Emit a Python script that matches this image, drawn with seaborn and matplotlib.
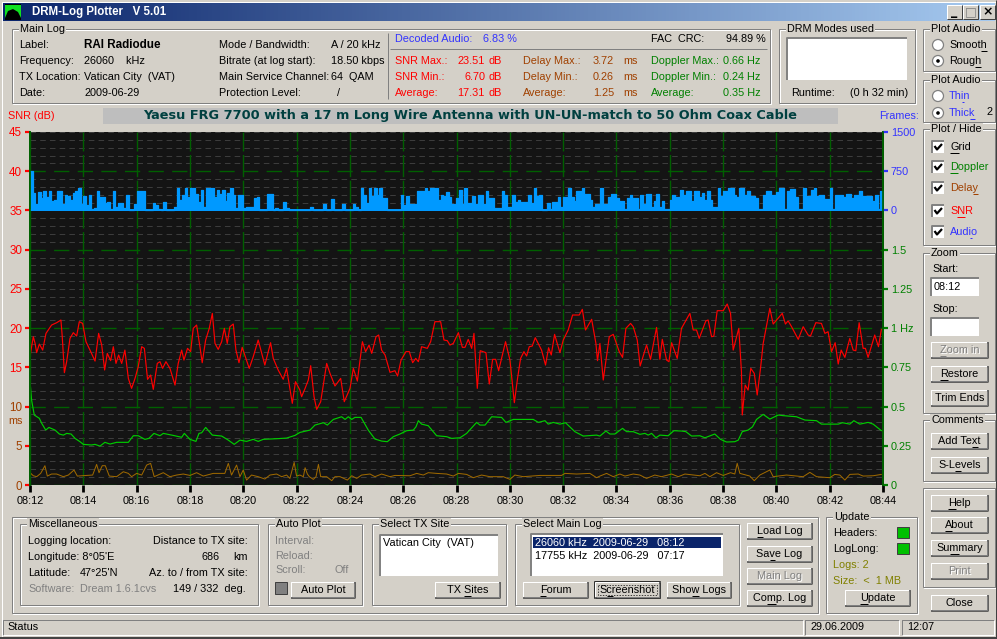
import numpy as np
import pandas as pd
import seaborn as sns
import matplotlib
matplotlib.use('Agg')
import matplotlib.pyplot as plt
from matplotlib.colors import LinearSegmentedColormap
from matplotlib.patches import Rectangle, Circle, Polygon

# Data (minutes since 08:12)
snr_time = [0, .06, .125, .19, .25, .35, .475, .6, .81, 1.0, 1.16, 1.21, 1.29, 1.375, 1.5, 1.625, 1.75, 1.85, 1.975, 2.1,
            2.25, 2.44, 2.575, 2.69, 2.8, 2.9, 3.025, 3.125, 3.225, 3.325, 3.44, 3.56, 3.69, 3.81, 3.94, 4.06, 4.19, 4.29,
            4.41, 4.525, 4.625, 4.775, 4.875, 4.975, 5.1, 5.25, 5.44, 5.56, 5.69, 5.775, 5.91, 6.025, 6.125, 6.25, 6.375,
            6.46, 6.59, 6.725, 6.84, 6.94, 7.06, 7.19, 7.29, 7.4, 7.5, 7.625, 7.725, 7.84, 7.96, 8.1, 8.225, 8.375, 8.56,
            8.81, 9.025, 9.125, 9.31, 9.5, 9.625, 9.84, 9.96, 10.125,
            10.19, 10.32, 10.44, 10.53, 10.655, 10.755, 10.905, 11.13, 11.255, 11.44, 11.655, 11.79, 12.005, 12.13, 12.28,
            12.47, 12.59, 12.72, 12.82, 12.98, 13.08, 13.19, 13.32, 13.505, 13.69, 13.79, 13.92, 14.105, 14.23, 14.355,
            14.47, 14.57, 14.69, 14.905, 15.03, 15.19, 15.405, 15.53, 15.655, 15.755, 15.88, 16.07, 16.22, 16.32, 16.44,
            16.57, 16.655, 16.78, 16.89, 17.105, 17.23, 17.355, 17.47, 17.58, 17.84, 18.005, 18.17, 18.29, 18.405, 18.53,
            18.63, 18.73, 18.84, 18.955, 19.19, 19.34, 19.455, 19.555, 19.68, 19.88, 20.005, 20.19, 20.355, 20.605, 20.72,
            20.84, 21.07, 21.23, 21.29, 21.38,
            21.505, 21.73, 21.88, 22.105, 22.23, 22.355, 22.53, 22.63, 22.78, 22.89, 23.13, 23.28, 23.505, 23.63, 23.72,
            23.88, 23.97, 24.07, 24.28, 24.44, 24.755, 24.88, 25.005, 25.105, 25.355, 25.44, 25.57, 25.655, 25.78, 26.005,
            26.155, 26.28, 26.38, 26.59, 26.69, 26.72, 26.83, 26.94, 27.04, 27.17, 27.28, 27.405, 27.505, 27.755, 27.88,
            28.22, 28.34, 28.44, 28.57, 28.82, 29.005, 29.19, 29.28, 29.48, 29.69, 29.82, 29.94, 30.07, 30.205, 30.32,
            30.43, 30.57, 30.755, 30.88, 30.98, 31.105, 31.255, 31.34, 31.44, 31.69, 31.83, 31.94]
snr_db = [16.36, 17.63, 18.9, 18.05, 16.87, 17.97, 17.2, 19.33, 20.39, 20.69, 21.03, 18.9, 14.32, 15.72, 18.69, 19.42, 18.99,
          20.82, 20.6, 18.27, 17.2, 15.8, 19.33, 17.84, 14.66, 16.78, 15.85, 17.63, 15.5, 16.57, 15.5, 17.2, 13.59, 12.32,
          13.59, 15.08, 17.63, 17.42, 13.47, 14.02, 12.19, 15.5, 15.72, 14.87, 15.72, 14.87, 12.74, 15.5, 17.2, 15.93, 17.42,
          17.0, 19.97, 20.39, 17.63, 15.59, 18.48, 19.97, 21.88, 18.05, 17.29, 18.27, 19.97, 18.05, 20.18, 20.52, 17.2, 15.59,
          17.55, 16.14, 14.87, 16.36, 18.48, 15.29, 18.14, 16.14, 14.66, 13.47, 14.87, 10.41, 13.17, 12.1,
          11.26, 12.32, 13.38, 15.21, 11.26, 9.64, 10.62, 15.5, 14.23, 12.62, 13.59, 10.62, 12.32, 14.87, 13.25, 18.27, 17.0,
          17.84, 16.78, 18.9, 19.12, 17.2, 16.57, 14.36, 14.57, 13.89, 15.93, 17.0, 17.0, 15.59, 16.14, 15.72, 17.63, 17.42,
          18.27, 20.82, 20.82, 18.48, 18.4, 17.84, 18.05, 19.42, 17.55, 17.55, 18.57, 17.42, 19.33, 12.32, 17.12, 16.87, 12.87,
          16.02, 16.02, 14.57, 18.27, 15.93, 10.49, 13.59, 16.14, 17.0, 16.44, 17.63, 17.71, 18.78, 17.2, 15.29, 17.5, 16.57,
          19.2, 16.87, 18.48, 19.76, 21.67, 21.67, 22.39, 19.76, 21.12, 18.05, 15.85, 18.05,
          13.38, 18.9, 19.2, 17.0, 16.27, 19.97, 20.6, 20.18, 18.48, 15.17, 17.84, 16.02, 20.09, 16.02, 18.57, 15.93, 15.72,
          18.14, 16.14, 19.97, 21.88, 19.76, 19.76, 18.69, 20.93, 21.03, 18.9, 18.99, 22.22, 22.22, 23.07, 21.88, 17.2, 19.97,
          14.44, 8.92, 12.74, 12.1, 14.87, 14.23, 11.47, 14.87, 18.05, 22.52, 20.52, 21.88, 20.52, 20.93, 20.18, 18.57, 20.18,
          19.12, 18.99, 20.69, 20.6, 19.33, 19.54, 17.0, 18.14, 15.42, 17.2, 16.27, 18.69, 17.2, 17.12, 20.69, 17.42, 17.42,
          16.27, 19.12, 17.63, 19.84]

doppler_time = [0, .06, .16, .35, .44, .59, .71, .94, 1.1, 1.25, 1.375, 1.54, 1.69, 1.875, 2.0, 2.31, 2.44, 2.625, 2.81, 3.0,
                3.25, 3.69, 3.875, 4.06, 4.31, 4.46, 4.65, 4.875, 5.0, 5.375, 5.69, 5.79, 6.0, 6.225, 6.34, 6.44, 6.59, 6.84,
                7.19, 7.44, 7.66, 7.875, 8.125, 8.375, 8.56, 8.75, 9.25, 9.625, 9.94, 10.125,
                10.505, 10.69, 11.005, 11.155, 11.38, 11.69, 11.82, 11.94, 12.07, 12.19, 12.42, 12.69, 12.94, 13.19, 13.405,
                13.63, 13.88, 14.13, 14.38, 14.48, 14.57, 14.69, 14.94, 15.255, 15.63, 15.82, 16.13, 16.38, 16.755, 16.88,
                17.07, 17.32, 17.69, 17.855, 18.13, 18.88, 19.07, 19.32, 19.44, 19.63, 19.88, 20.09, 20.44, 20.755, 21.255,
                21.38, 21.605, 21.755, 21.94, 22.23, 22.38, 22.63, 22.88, 23.07, 23.19, 23.32, 23.48, 23.63, 23.94, 24.155,
                24.44, 24.605, 24.82, 25.13, 25.32, 25.69, 25.905, 26.13, 26.44, 26.57, 26.72, 26.94, 27.105, 27.255, 27.505,
                27.755, 28.07, 28.255, 28.755, 29.07, 29.505, 29.69, 30.32, 30.48, 30.755, 30.905, 31.13, 31.44, 31.63, 31.94]
doppler_hz = [.658, .541, .446, .425, .393, .35, .367, .35, .325, .318, .329, .325, .297, .276, .259, .255, .259, .248, .272,
              .261, .272, .272, .314, .314, .291, .297, .329, .314, .329, .316, .304, .329, .291, .278, .329, .333, .367, .318,
              .312, .286, .259, .286, .278, .291, .278, .291, .295, .299, .316, .335,
              .35, .382, .397, .382, .418, .435, .418, .435, .418, .431, .431, .35, .293, .28, .276, .308, .325, .346, .35,
              .371, .41, .388, .378, .314, .308, .297, .301, .329, .399, .382, .382, .435, .431, .399, .418, .418, .399, .41,
              .388, .399, .388, .397, .34, .312, .318,
              .312, .344, .325, .325, .361, .34, .34, .323, .329, .318, .329, .301, .318, .314, .346, .344, .34, .312, .314,
              .301, .325, .291, .274, .276, .286, .34, .35, .371, .418, .45, .42, .446, .442, .435, .414, .41, .388, .388,
              .397, .388, .41, .388, .399, .388, .346]

delay_time = [0, .125, .25, .4, .56, .65, .81, 1.0, 1.25, 1.44, 1.65, 1.775, 2.35, 2.5, 2.59, 2.71, 2.825, 2.975, 3.25, 3.5,
              3.69, 3.81, 4.0, 4.19, 4.375, 4.525, 4.66, 5.0, 5.25, 5.5, 5.75, 6.0, 6.25, 6.5, 6.875, 7.31, 7.44, 7.56, 7.75,
              7.875, 8.0, 8.125, 8.31, 8.56, 8.81, 9.0, 9.25, 9.44, 9.625, 9.75, 9.91, 10.0, 10.125,
              10.255, 10.32, 10.405, 10.48, 10.63, 10.73, 10.82, 10.905, 11.13, 11.32, 11.44, 11.63, 11.905, 12.07, 12.255,
              12.44, 12.755, 12.94, 13.19, 13.505, 13.69, 14.255, 14.505, 14.755, 14.94, 15.255, 15.63, 15.88, 16.07, 16.38,
              16.63, 16.94, 17.255, 17.505, 17.755, 18.005, 18.19, 18.505, 19.13, 19.94, 20.07, 20.505, 21.005, 21.255, 21.38,
              21.63, 21.88, 22.13, 22.32, 22.63, 22.88, 23.13, 23.44, 23.69, 24.07, 24.32, 24.57, 25.13, 25.32, 25.505, 25.755,
              26.005, 26.28, 26.44, 26.53, 26.63, 27.005, 27.17, 27.38, 27.755, 27.88, 28.38, 29.005, 29.255, 29.505, 30.005,
              30.19, 30.38, 30.57, 30.755, 31.07, 31.255, 31.63, 31.94]
delay_ms = [1.57, 1.18, 1.06, 1.48, 2.46, 1.14, 1.4, 1.4, 1.06, 1.27, 1.91, 1.14, 1.27, 2.63, 1.57, 2.46, 2.46, 1.14, 1.06, 1.69,
            1.48, 1.06, 1.48, 1.27, 2.54, 2.76, 1.06, 1.57, 1.06, 1.27, 1.4, 1.22, 1.57, 1.14, 1.48, 1.48, 2.76, 1.27, 2.54, 1.06,
            1.91, .63, 1.27, 1.06, .76, 1.27, 1.4, 1.06, 1.27, .84, 2.88, 1.14, 1.27,
            1.06, 2.2, 1.4, 1.06, .72, 1.06, 2.63, 1.06, 1.06, .55, 1.06, 1.06, .63, 1.18, .84, 1.27, 1.4, 1.06, 1.4, 1.06, 1.22,
            1.18, 1.48, 1.27, 1.57, 1.48, 1.4, 1.14, 1.48, 1.35, .93, 1.27, 1.06, 1.06, 1.06, .72, 1.27, 1.06, 1.22, 1.22, 1.48,
            1.4, 1.48, .93, 1.14,
            1.48, 1.06, 1.4, 1.14, 1.4, 1.27, .84, 1.27, 1.06, 1.4, 1.06, 1.4, 1.18, 1.48, 1.06, 1.57, 1.22, 1.57, 1.4, 2.76, 1.48,
            1.14, .55, 1.27, 1.91, 1.06, 1.27, 1.06, 1.61, 1.06, .93, 1.35, 1.27, .63, 1.35, 1.4, 1.14, 1.18, 1.35]

audio_frames = [750, 330, 130, 360, 230, 370, 260, 370, 180, 200, 370, 370, 130, 300, 270, 200, 330, 380, 430, 120, 270, 100,
                300, 30, 40, 370, 260, 250, 140, 160, 30, 370, 70, 150, 140, 40, 300, 10, 10, 130, 380, 380, 380, 5, 5, 5, 150,
                100, 20, 10, 170, 5, 5, 10, 60, 430, 200, 300, 420, 250, 430, 430, 310, 170, 400, 60, 430, 430, 430, 250, 400,
                310, 400, 180, 340, 420, 300, 50, 300, 300, 40, 60, 60, 70, 230, 250, 10, 5, 10, 310, 310, 10, 40, 10, 15, 170,
                40, 10, 5, 5, 5, 5,
                5, 5, 5, 60, 5, 5, 5, 5, 130, 5, 5, 210, 5, 5, 5, 130, 5, 5, 5, 130, 60, 10, 430, 300, 150, 430, 280, 430, 300,
                430, 240, 240, 5, 5, 5, 5, 5, 300, 100, 280, 130, 130, 130, 380, 380, 380, 430, 380, 430, 430, 430, 200, 300,
                280, 360, 250, 130, 130, 230, 400, 130, 430, 150, 150, 280, 130, 300, 300, 120, 370, 240, 240, 50, 50, 50, 370,
                300, 60, 60, 300, 170, 200, 170, 170, 170, 300, 140, 430, 280, 300, 10, 10, 150, 30, 170, 170, 250, 60, 250, 250,
                430, 250, 180, 380, 380, 430, 310, 310, 200, 60, 120, 120, 430,
                130, 130, 250, 320, 320, 240, 190, 190, 30, 240, 290, 230, 230, 30, 300, 130, 310, 310, 60, 190, 310, 60, 190, 30,
                30, 200, 300, 250, 250, 400, 290, 380, 380, 180, 380, 380, 250, 340, 200, 370, 200, 60, 60, 430, 280, 380, 380,
                430, 430, 300, 260, 430, 430, 300, 380, 280, 280, 230, 30, 30, 300, 380, 380, 300, 300, 350, 430, 430, 30, 380,
                410, 410, 250, 30, 30, 430, 280, 280, 390, 430, 280, 300, 300, 220, 220, 430, 30, 300, 300, 300, 250, 320, 320,
                230, 300, 300, 380, 280, 280, 280, 280, 180, 300, 30, 380, 380]

time_ticks = list(range(0, 33, 2))
time_labels = ['08:12', '08:14', '08:16', '08:18', '08:20', '08:22', '08:24', '08:26', '08:28',
               '08:30', '08:32', '08:34', '08:36', '08:38', '08:40', '08:42', '08:44']
snr_ticks = [0, 5, 10, 15, 20, 25, 30, 35, 40, 45]
hz_ticks = [0, .25, .5, .75, 1, 1.25, 1.5]
hz_labels = ['0', '0.25', '0.5', '0.75', '1 Hz', '1.25', '1.5']
frame_ticks = [0, 750, 1500]

BG = '#D4D0C8'
RED = '#FF0000'
BLUE = '#3333FF'
GREEN = '#008000'
BROWN = '#A04000'
OLIVE = '#808000'
GRAY = '#808080'
FS = 7.8

sns.set_theme(style='white')
plt.rcParams['font.family'] = ['Liberation Sans', 'DejaVu Sans']
plt.rcParams['lines.scale_dashes'] = False

fig = plt.figure(figsize=(9.97, 6.39), dpi=100, facecolor=BG)

# Full window layer in pixel coordinates for the dialog around the chart
bg = fig.add_axes([0, 0, 1, 1], zorder=0)
bg.set_axis_off()

# Title bar gradient goes first, imshow resets the limits
title_cmap = LinearSegmentedColormap.from_list('title', ['#0A246A', '#A6CAF0'])
bg.imshow(np.linspace(0, 1, 256).reshape(1, -1), cmap=title_cmap, aspect='auto', extent=(3, 994, 21, 3))
bg.set_xlim(0, 997)
bg.set_ylim(639, 0)
bg.autoscale(False)


def line(xs, ys, color, lw=0.72):
    bg.plot(xs, ys, color=color, lw=lw, solid_capstyle='butt')


def label(x, y, s, color='black', ha='left', ul=None, size=FS, **kw):
    t = bg.text(x, y, s, color=color, ha=ha, va='center', fontsize=size, **kw)
    if ul is not None:
        r = fig.canvas.get_renderer()
        fp = t.get_fontproperties()
        left = t.get_window_extent(r).x0
        a = r.get_text_width_height_descent(s[:ul], fp, False)[0] if ul else 0
        b = r.get_text_width_height_descent(s[:ul + 1], fp, False)[0]
        line([left + a, left + b], [y + 5.5, y + 5.5], color)
    return t


def group(x0, y0, x1, y1, title=None):
    bg.add_patch(Rectangle((x0 + 1, y0 + 1), x1 - x0, y1 - y0, fill=False, ec='white', lw=0.72))
    bg.add_patch(Rectangle((x0, y0), x1 - x0, y1 - y0, fill=False, ec=GRAY, lw=0.72))
    if title:
        label(x0 + 8, y0, title, bbox=dict(fc=BG, ec='none', pad=1), zorder=5)


def sunken(x0, y0, x1, y1):
    bg.add_patch(Rectangle((x0, y0), x1 - x0, y1 - y0, fc='white', ec='none'))
    line([x0, x0, x1], [y1, y0, y0], GRAY, 1.4)
    line([x0, x1, x1], [y1, y1, y0], BG, 0.72)


def button(x0, y0, x1, y1, text, ul=None, disabled=False, focused=False):
    bg.add_patch(Rectangle((x0, y0), x1 - x0, y1 - y0, fc=BG, ec='none'))
    line([x0, x0, x1], [y1, y0, y0], 'white')
    line([x0, x1, x1], [y1, y1, y0], '#404040', 1.1)
    line([x0 + 1, x1 - 1, x1 - 1], [y1 - 1, y1 - 1, y0 + 1], GRAY)
    cx = (x0 + x1) / 2
    cy = (y0 + y1) / 2
    if disabled:
        label(cx + 1, cy + 1, text, color='white', ha='center')
        label(cx, cy, text, color=GRAY, ha='center', ul=ul)
    else:
        label(cx, cy, text, ha='center', ul=ul)
    if focused:
        bg.add_patch(Rectangle((x0, y0), x1 - x0, y1 - y0, fill=False, ec='black', lw=1.1))
        bg.add_patch(Rectangle((x0 + 3, y0 + 3), x1 - x0 - 6, y1 - y0 - 6, fill=False, ec='black', lw=0.5, ls=(0, (1, 1))))


def radio(x, y, text, on=False, color='black', ul=None):
    bg.add_patch(Circle((x, y), 5.5, fc='white', ec=GRAY, lw=0.9))
    if on:
        bg.add_patch(Circle((x, y), 1.8, fc='black', ec='none'))
    label(x + 11, y, text, color=color, ul=ul)


def check(y, text, color, ul):
    sunken(932, y - 6, 944, y + 6)
    line([934.5, 937, 942], [y - 1, y + 2.5, y - 3], 'black', 1.6)
    label(950, y, text, color=color, ul=ul)


# Title bar
bg.add_patch(Rectangle((5, 4), 16, 16, fc='black', ec='none'))
bg.add_patch(Polygon([(5, 5), (21, 5), (21, 18), (18, 12), (13, 9), (8, 11), (5, 18)], fc='#10E020', ec='none'))
label(32, 12, 'DRM-Log Plotter   V 5.01', color='white', weight='bold', size=8.3)
for x0, glyph in [(947, '_'), (963, '□'), (980, '×')]:
    bg.add_patch(Rectangle((x0, 5), 15, 14, fc=BG, ec='none'))
    line([x0, x0, x0 + 15], [19, 5, 5], 'white')
    line([x0, x0 + 15, x0 + 15], [19, 19, 5], '#404040')
    bg.text(x0 + 7.5, 11.5, glyph, ha='center', va='center', fontsize=9, family='DejaVu Sans', weight='bold',
            color=GRAY if glyph == '□' else 'black')

# Window border
line([1.5, 1.5, 995.5], [637, 1.5, 1.5], 'white')
line([0, 997], [637.5, 637.5], '#404040', 1.4)
line([996, 996], [0, 638], '#404040')

# Main log header
group(12, 29, 770, 103, 'Main Log')
line([388, 388], [33, 99], GRAY)
line([390, 767], [49, 49], GRAY)
rows = [45, 61, 77, 93]
for y, name, value in zip(rows, ['Label:', 'Frequency:', 'TX Location:', 'Date:'],
                          ['', '26060    kHz', 'Vatican City  (VAT)', '2009-06-29']):
    label(19, y, name)
    label(84, y, value)
label(84, 45, 'RAI Radiodue', weight='bold', size=8.4)
for y, name, value in zip(rows, ['Mode / Bandwidth:', 'Bitrate (at log start):', 'Main Service Channel:', 'Protection Level:'],
                          ['A / 20 kHz', '18.50 kbps', '64  QAM', '  /']):
    label(219, y, name)
    label(331, y, value)
label(395, 39, 'Decoded Audio:', color=BLUE)
label(483, 39, '6.83 %', color=BLUE)
label(651, 39, 'FAC  CRC:')
label(726, 39, '94.89 %')
for y, n1, v1, n2, v2, n3, v3 in [(61, 'SNR Max.:', '23.51', 'Delay Max.:', '3.72', 'Doppler Max.:', '0.66 Hz'),
                                  (77, 'SNR Min.:', '6.70', 'Delay Min.:', '0.26', 'Doppler Min.:', '0.24 Hz'),
                                  (93, 'Average:', '17.31', 'Average:', '1.25', 'Average:', '0.35 Hz')]:
    label(395, y, n1, color=RED)
    label(485, y, v1, color=RED, ha='right')
    label(488, y, 'dB', color=RED)
    label(523, y, n2, color=BROWN)
    label(614, y, v2, color=BROWN, ha='right')
    label(623, y, 'ms', color=BROWN)
    label(651, y, n3, color=GREEN)
    label(723, y, v3, color=GREEN)

group(779, 29, 915, 103, 'DRM Modes used')
sunken(787, 38, 907, 80)
label(791, 93, 'Runtime:')
label(850, 93, '(0 h 32 min)')

# Right hand column
group(923, 29, 995, 71, 'Plot Audio')
radio(938, 45, 'Smooth', ul=5)
radio(938, 61, 'Rough', on=True, ul=4)
group(923, 80, 995, 122, 'Plot Audio')
radio(938, 96, 'Thin', color=BLUE, ul=2)
radio(938, 113, 'Thick', on=True, color=BLUE, ul=4)
label(986, 112, '2')
group(923, 129, 995, 245, 'Plot / Hide')
check(147, 'Grid', 'black', 0)
check(167, 'Doppler', GREEN, 0)
check(188, 'Delay', BROWN, 4)
check(211, 'SNR', RED, 1)
check(232, 'Audio', BLUE, 3)
group(923, 253, 995, 413, 'Zoom')
label(932, 269, 'Start:')
sunken(931, 278, 979, 296)
label(934, 287, '08:12')
label(932, 309, 'Stop:')
sunken(931, 318, 979, 336)
button(931, 342, 988, 358, 'Zoom in', ul=0, disabled=True)
button(931, 366, 988, 382, 'Restore', ul=0)
button(931, 390, 988, 406, 'Trim Ends')
group(923, 420, 995, 481, 'Comments')
button(931, 433, 988, 449, 'Add Text', ul=6)
button(931, 457, 988, 473, 'S-Levels', ul=3)
group(923, 488, 995, 587)
button(931, 495, 988, 511, 'Help', ul=0)
button(931, 517, 988, 533, 'About', ul=0)
button(931, 540, 988, 556, 'Summary', ul=2)
button(931, 563, 988, 579, 'Print', disabled=True)
button(931, 595, 988, 611, 'Close')

# Bottom panels
group(12, 517, 818, 613)
group(20, 524, 258, 605, 'Miscellaneous')
label(28, 541, 'Logging location:')
label(28, 557, "Longitude: 8°05'E")
label(28, 573, 'Latitude:')
label(80, 573, "47°25'N")
label(28, 589, 'Software:', color=GRAY)
label(80, 589, 'Dream 1.6.1cvs', color=GRAY)
label(248, 541, 'Distance to TX site:', ha='right')
label(220, 557, '686', ha='right')
label(248, 557, 'km', ha='right')
label(248, 573, 'Az. to / from TX site:', ha='right')
label(246, 589, '149 / 332  deg.', ha='right')

group(268, 524, 362, 605, 'Auto Plot')
label(275, 541, 'Interval:', color=GRAY)
label(275, 556, 'Reload:', color=GRAY)
label(275, 570, 'Scroll:', color=GRAY)
label(349, 570, 'Off', color=GRAY, ha='right')
bg.add_patch(Rectangle((275, 582), 12, 12, fc=GRAY, ec='#404040', lw=0.72))
button(291, 582, 355, 598, 'Auto Plot')

group(372, 524, 506, 605, 'Select TX Site')
sunken(380, 535, 498, 576)
label(383, 543, 'Vatican City  (VAT)')
button(435, 582, 500, 598, 'TX Sites', ul=3)

group(515, 524, 739, 605, 'Select Main Log')
sunken(531, 534, 723, 576)
bg.add_patch(Rectangle((533, 537), 188, 11, fc='#0A246A', ec='none'))
label(535, 542.5, '26060 kHz  2009-06-29   08:12', color='white')
label(535, 556, '17755 kHz  2009-06-29   07:17')
button(523, 582, 588, 598, 'Forum', ul=0)
button(595, 582, 660, 598, 'Screenshot', ul=1, focused=True)
button(667, 582, 731, 598, 'Show Logs', ul=3)
button(747, 523, 812, 539, 'Load Log', ul=0)
button(747, 546, 812, 562, 'Save Log', ul=2)
button(747, 568, 812, 584, 'Main Log', disabled=True)
button(747, 590, 812, 606, 'Comp. Log', ul=2)

group(826, 517, 917, 613, 'Update')
label(833, 533, 'Headers:')
label(833, 549, 'LogLong:')
for y0 in [527, 543]:
    bg.add_patch(Rectangle((897, y0), 12, 11, fc='#00C000', ec='#404040', lw=0.72))
label(833, 565, 'Logs: 2', color=OLIVE)
label(833, 581, 'Size:  <  1 MB', color=OLIVE)
button(845, 590, 910, 606, 'Update', ul=0)

# Status bar
for x0, x1 in [(3, 803), (805, 899), (902, 994)]:
    line([x0, x0, x1], [635, 620, 620], GRAY)
    line([x0, x1, x1], [635, 635, 620], 'white')
label(7, 627, 'Status')
label(810, 627, '29.06.2009')
label(907, 627, '12:07')

# Chart headers
bg.add_patch(Rectangle((103, 108), 735, 16, fc='#BEBEBE', ec='none'))
bg.text(470, 116, 'Yaesu FRG 7700 with a 17 m Long Wire Antenna with UN-UN-match to 50 Ohm Coax Cable',
        ha='center', va='center', fontsize=9.3, weight='bold', color='#004040', family='DejaVu Sans')
label(8, 116, 'SNR (dB)', color=RED)
label(879, 116, 'Frames:', color=BLUE)
label(8, 421, 'ms', color=BROWN)

# Chart
ax = fig.add_axes([30 / 997, (639 - 485) / 639, 853 / 997, 353 / 639], zorder=1)
ax.set_facecolor('#141414')
ax.set_xlim(0, 32)
ax.set_ylim(0, 45)

for v in range(46):
    if v % 10 == 0:
        ax.axhline(v, color='#006000', lw=1.0, ls=(0, (11, 6)), zorder=1.5)
    else:
        ax.axhline(v, color='#3C3C3C', lw=0.72, ls=(0, (4, 3)), zorder=1)
for t in time_ticks:
    ax.axvline(t, color='#006000', lw=1.0, ls=(0, (16, 2.5)), zorder=1.5)

sns.lineplot(data=pd.DataFrame({'t': snr_time, 'v': snr_db}), x='t', y='v', estimator=None, sort=False,
             color='#FF0000', lw=0.85, ax=ax, zorder=3)
sns.lineplot(data=pd.DataFrame({'t': delay_time, 'v': delay_ms}), x='t', y='v', estimator=None, sort=False,
             color='#A06A00', lw=0.72, ax=ax, zorder=3)

ax.set_xticks(time_ticks, time_labels)
ax.set_yticks(snr_ticks)
ax.set_xlabel('')
ax.set_ylabel('')
ax.tick_params(axis='x', length=5, width=2, color='black', labelsize=FS, labelcolor='black', pad=3, bottom=True)
ax.tick_params(axis='y', length=3.6, width=1.6, color=RED, labelsize=8.4, pad=2, left=True)
for tick, v in zip(ax.get_yticklabels(), snr_ticks):
    tick.set_color(BROWN if v <= 10 else RED)
for tick, v in zip(ax.yaxis.get_major_ticks(), snr_ticks):
    if v <= 10:
        tick.tick1line.set_color(BROWN)

# Doppler on the right, 1 Hz lines up with 20 dB
ax_hz = ax.twinx()
ax_hz.set_ylim(0, 2.25)
sns.lineplot(data=pd.DataFrame({'t': doppler_time, 'v': doppler_hz}), x='t', y='v', estimator=None, sort=False,
             color='#00CC00', lw=0.85, ax=ax_hz)
ax_hz.set_yticks(hz_ticks, hz_labels)
ax_hz.set_ylabel('')
ax_hz.tick_params(axis='y', length=3.6, width=1.6, color=GREEN, labelcolor=GREEN, labelsize=FS, pad=2, right=True)

# Audio frames, 0 sits on the 35 dB line
ax_fr = ax.twinx()
ax_fr.set_ylim(-35 * 150, 10 * 150)
audio_time = np.linspace(0, 32, len(audio_frames))
ax_fr.fill_between(audio_time, 0, audio_frames, step='post', color='#0099FF', lw=0)
sns.lineplot(data=pd.DataFrame({'t': audio_time, 'v': audio_frames}), x='t', y='v', estimator=None, sort=False,
             drawstyle='steps-post', color='#0099FF', lw=0.9, ax=ax_fr)
ax_fr.axhline(0, color='#0099FF', lw=1.4, xmax=0.998)
ax_fr.set_yticks(frame_ticks)
ax_fr.set_ylabel('')
ax_fr.tick_params(axis='y', length=3.6, width=1.6, color=BLUE, labelcolor=BLUE, labelsize=FS, pad=2, right=True)

for a in (ax, ax_hz, ax_fr):
    a.patch.set_visible(a is ax)
    a.grid(False)
    a.spines['top'].set_visible(False)
    a.spines['bottom'].set_visible(False)
    for side in ('left', 'right'):
        a.spines[side].set_color('#006000')
        a.spines[side].set_linewidth(1.2)

plt.savefig('out.png', dpi=100, facecolor=BG)
plt.close()
